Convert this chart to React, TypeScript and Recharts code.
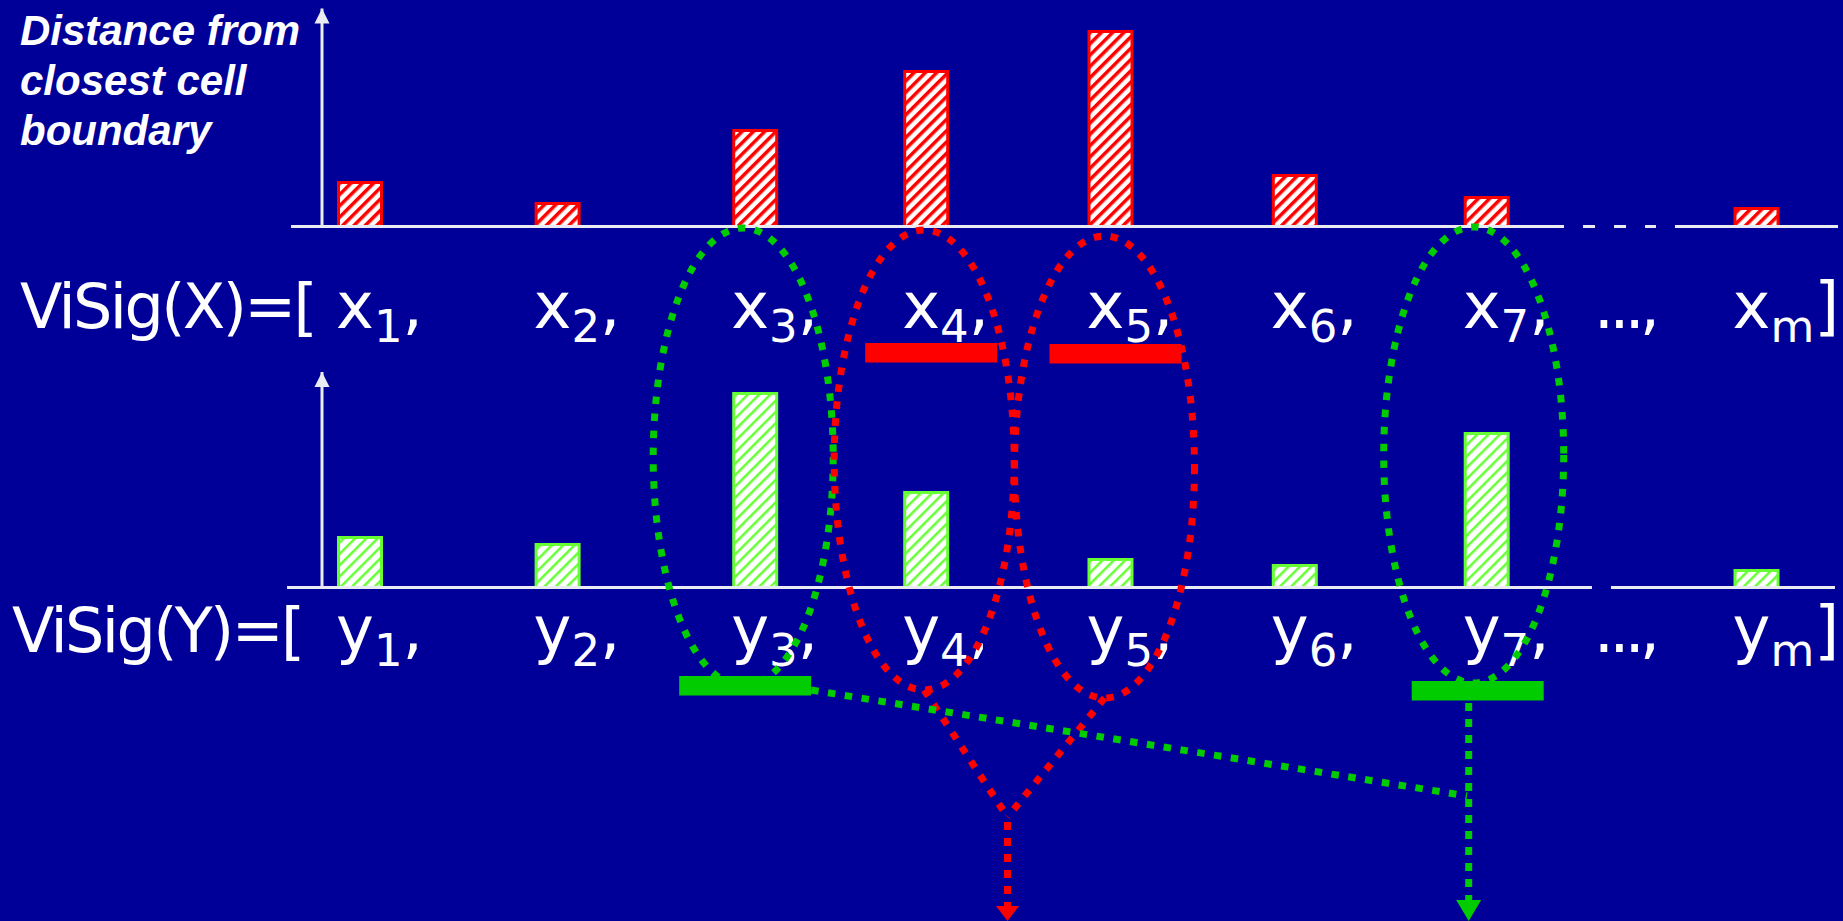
import React from 'react'
import { BarChart, Bar, XAxis, YAxis, ReferenceLine, ReferenceDot } from 'recharts'

const W = 1843
const H = 921
const BG = '#000099'
const RED = '#ff0000'
const GREEN = '#00cc00'
const LIME = '#66ff33'
const AXIS = '#eaeaf2'
const FONT = '"DejaVu Sans", sans-serif'

// where each entry of the signature sits along the row (x1..x7, xm)
const slots = [1, 2.04, 3.08, 3.98, 4.95, 5.92, 6.93, 8.35]
const dotsSlot = 7.62
const subs = ['1', '2', '3', '4', '5', '6', '7', 'm']
// distance from closest cell boundary
const xDist = [4.4, 2.3, 9.6, 15.5, 19.5, 5.1, 2.9, 1.8]
const yDist = [5.0, 4.3, 19.4, 9.5, 2.8, 2.2, 15.4, 1.7]

const tickSlots = [...slots.slice(0, 7), dotsSlot, slots[7]]
const tickSubs = [...subs.slice(0, 7), '...', subs[7]]

const xData = slots.map((pos, i) => ({ pos, v: xDist[i] }))
const yData = slots.map((pos, i) => ({ pos, v: yDist[i] }))

const DOMAIN: [number, number] = [0.8, 8.8]
const YAXIS_W = 322
const px = (p: number) => YAXIS_W + ((p - DOMAIN[0]) / (DOMAIN[1] - DOMAIN[0])) * (W - YAXIS_W - 1)

const ArrowUp = (p: any) => (
  <polygon points={`${p.cx},${p.cy} ${p.cx - 7.5},${p.cy + 15} ${p.cx + 7.5},${p.cy + 15}`} fill={AXIS} />
)

const hatchBar = (id: string, stroke: string) => (p: any) => (
  <rect x={p.x} y={p.y} width={p.width} height={p.height} fill={`url(#${id})`} stroke={stroke} strokeWidth={3} />
)

interface RowProps {
  data: { pos: number; v: number }[]
  letter: string
  prefix: string
  prefixX: number
  labelDy: number
  height: number
  top: number
  axisH: number
  yMax: number
  id: string
  stripe: string
  stripeW: number
  edge: string
  solid: [number, number][]
  dashed?: [number, number]
}

function SignatureRow(r: RowProps) {
  const renderTick = (props: any) => {
    const { x, y, payload } = props
    const i = tickSlots.indexOf(payload.value)
    const sub = tickSubs[i]
    const by = y + r.labelDy
    const sx = x - 24
    if (sub === '...') {
      return (
        <text x={sx} y={by} fill="#fff" fontFamily={FONT} fontSize={64} letterSpacing={-5}>...,</text>
      )
    }
    const last = i === tickSlots.length - 1
    return (
      <g>
        {i === 0 && (
          <text x={r.prefixX} y={by} fill="#fff" fontFamily={FONT} fontSize={62} letterSpacing={-2.6}>{r.prefix}</text>
        )}
        <text x={sx} y={by} fill="#fff" fontFamily={FONT} fontSize={64}>
          {r.letter}
          <tspan dy={14} fontSize={45}>{sub}</tspan>
          <tspan dy={-14}>{last ? ']' : ','}</tspan>
        </text>
      </g>
    )
  }

  return (
    <BarChart width={W} height={r.height} data={r.data} margin={{ top: r.top, right: 1, bottom: 0, left: 0 }}>
      <defs>
        <pattern id={r.id} width={8} height={8} patternUnits="userSpaceOnUse" patternTransform="rotate(45)">
          <rect width={8} height={8} fill="#fff" />
          <rect width={r.stripeW} height={8} fill={r.stripe} />
        </pattern>
      </defs>
      <XAxis type="number" dataKey="pos" domain={DOMAIN} allowDataOverflow ticks={tickSlots} interval={0}
        tick={renderTick} axisLine={false} tickLine={false} tickSize={0} tickMargin={0} height={r.axisH} />
      <YAxis domain={[0, r.yMax]} allowDataOverflow width={YAXIS_W} tick={false} tickLine={false}
        axisLine={{ stroke: AXIS, strokeWidth: 3 }} />
      {r.solid.map(([a, b], k) => (
        <ReferenceLine key={k} segment={[{ x: a, y: 0 }, { x: b, y: 0 }]} stroke={AXIS} strokeWidth={3} ifOverflow="visible" />
      ))}
      {r.dashed && (
        <ReferenceLine segment={[{ x: r.dashed[0], y: 0 }, { x: r.dashed[1], y: 0 }]} stroke={AXIS}
          strokeWidth={3} strokeDasharray="12 19" ifOverflow="visible" />
      )}
      <ReferenceDot x={DOMAIN[0]} y={r.yMax} ifOverflow="visible" shape={ArrowUp} />
      <Bar dataKey="v" barSize={43} shape={hatchBar(r.id, r.edge)} isAnimationActive={false} />
    </BarChart>
  )
}

// annotations
const ovals = [
  { slot: 2, color: GREEN, dx: -12, cy: 457, ry: 229 },
  { slot: 3, color: RED, dx: -2, cy: 460, ry: 230 },
  { slot: 4, color: RED, dx: -6, cy: 467, ry: 231 },
  { slot: 6, color: GREEN, dx: -13, cy: 455, ry: 228 },
]
const marks = [
  { slot: 3, color: RED, dx: 5, y: 343 },
  { slot: 4, color: RED, dx: 5, y: 344 },
  { slot: 2, color: GREEN, dx: -10, y: 676 },
  { slot: 6, color: GREEN, dx: -9, y: 681 },
]

function Overlay() {
  const dot = { strokeWidth: 7, strokeDasharray: '7.5 9.5', fill: 'none' }
  const o1 = ovals[1]
  const o2 = ovals[2]
  const join = { x: 1007.5, y: 817 }
  const gFrom = { x: px(slots[2]) - 10 + 66, y: 690 }
  const gTo = { x: 1467, y: 796 }
  const gx = px(slots[6]) - 18
  return (
    <svg width={W} height={H} style={{ position: 'absolute', left: 0, top: 0 }}>
      <text fill="#fff" fontFamily='"Liberation Sans", Arial, sans-serif' fontWeight="bold" fontStyle="italic" fontSize={42}>
        <tspan x={20} y={45}>Distance from</tspan>
        <tspan x={20} y={95}>closest cell</tspan>
        <tspan x={20} y={145}>boundary</tspan>
      </text>
      {ovals.map((o, k) => (
        <ellipse key={k} cx={px(slots[o.slot]) + o.dx} cy={o.cy} rx={90} ry={o.ry} stroke={o.color} {...dot} />
      ))}
      {marks.map((m, k) => (
        <rect key={k} x={px(slots[m.slot]) + m.dx - 66} y={m.y} width={132} height={19.5} fill={m.color} />
      ))}
      <line x1={px(slots[o1.slot]) + o1.dx} y1={o1.cy + o1.ry} x2={join.x} y2={join.y} stroke={RED} {...dot} />
      <line x1={px(slots[o2.slot]) + o2.dx} y1={o2.cy + o2.ry} x2={join.x} y2={join.y} stroke={RED} {...dot} />
      <line x1={join.x} y1={join.y + 5} x2={join.x} y2={906} stroke={RED} strokeWidth={7} strokeDasharray="8 8" />
      <polygon points={`${join.x - 11.5},906 ${join.x + 11.5},906 ${join.x},921`} fill={RED} />
      <line x1={gFrom.x} y1={gFrom.y} x2={gTo.x} y2={gTo.y} stroke={GREEN} {...dot} />
      <line x1={gx} y1={703} x2={gx} y2={900} stroke={GREEN} strokeWidth={7} strokeDasharray="8 8" />
      <polygon points={`${gx - 12.5},900 ${gx + 12.5},900 ${gx},921`} fill={GREEN} />
    </svg>
  )
}

export default function App() {
  return (
    <div style={{ position: 'absolute', left: 0, top: 0, width: W, height: H, background: BG, overflow: 'hidden' }}>
      <div style={{ position: 'absolute', left: 0, top: 0 }}>
        <SignatureRow data={xData} letter="x" prefix="ViSig(X)=[" prefixX={20} labelDy={101.5}
          height={360} top={8.5} axisH={133.5} yMax={21.8} id="hatchRed" stripe={RED} stripeW={3.5} edge={RED}
          solid={[[0.637, 7.337], [7.921, 8.779]]} dashed={[7.437, 7.821]} />
      </div>
      <div style={{ position: 'absolute', left: 0, top: 360 }}>
        <SignatureRow data={yData} letter="y" prefix="ViSig(Y)=[" prefixX={12} labelDy={64.2}
          height={561} top={12} axisH={333.5} yMax={21.55} id="hatchGreen" stripe={LIME} stripeW={2.5} edge={LIME}
          solid={[[0.616, 7.484], [7.584, 8.763]]} />
      </div>
      <Overlay />
    </div>
  )
}
